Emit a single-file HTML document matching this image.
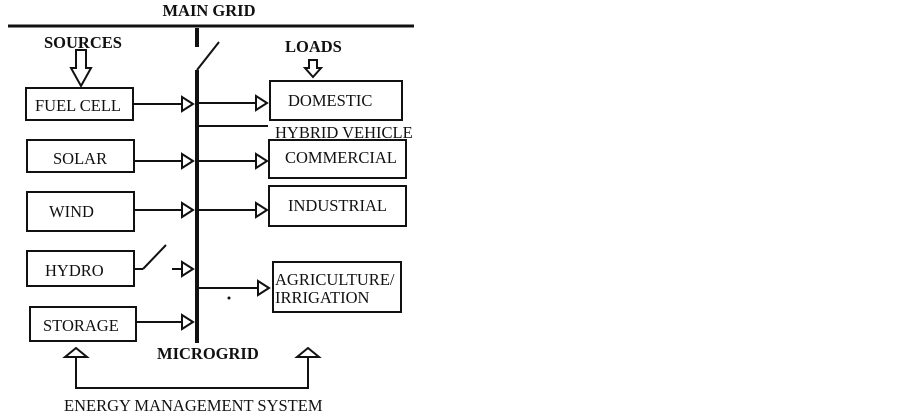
<!DOCTYPE html>
<html><head><style>
body{margin:0;background:#fff;width:902px;height:415px;overflow:hidden}
svg text{font-family:"Liberation Serif",serif;fill:#111}
</style></head><body>
<svg width="902" height="415" viewBox="0 0 902 415" xmlns="http://www.w3.org/2000/svg">
<g stroke="#111" fill="none" stroke-width="2">
<line x1="8" y1="26" x2="414" y2="26" stroke-width="3"/>
<line x1="197" y1="28" x2="197" y2="47" stroke-width="4"/>
<line x1="197" y1="70" x2="219" y2="42" stroke-width="2"/>
<line x1="197" y1="70" x2="197" y2="343" stroke-width="4"/>
<rect x="26" y="88" width="107" height="32"/>
<rect x="27" y="140" width="107" height="32"/>
<rect x="27" y="192" width="107" height="39"/>
<rect x="27" y="251" width="107" height="35"/>
<rect x="30" y="307" width="106" height="34"/>
<rect x="270" y="81" width="132" height="39"/>
<rect x="269" y="140" width="137" height="38"/>
<rect x="269" y="186" width="137" height="40"/>
<rect x="273" y="262" width="128" height="50"/>
<line x1="133" y1="104" x2="182" y2="104"/><path d="M182 97 L193 104 L182 111 Z"/>
<line x1="134" y1="161" x2="182" y2="161"/><path d="M182 154 L193 161 L182 168 Z"/>
<line x1="134" y1="210" x2="182" y2="210"/><path d="M182 203 L193 210 L182 217 Z"/>
<line x1="134" y1="269" x2="143" y2="269"/><line x1="143" y1="269" x2="166" y2="245"/>
<line x1="172" y1="269" x2="182" y2="269"/><path d="M182 262 L193 269 L182 276 Z"/>
<line x1="136" y1="322" x2="182" y2="322"/><path d="M182 315 L193 322 L182 329 Z"/>
<line x1="199" y1="103" x2="256" y2="103"/><path d="M256 96 L267 103 L256 110 Z"/>
<line x1="199" y1="126" x2="268" y2="126"/>
<line x1="199" y1="161" x2="256" y2="161"/><path d="M256 154 L267 161 L256 168 Z"/>
<line x1="199" y1="210" x2="256" y2="210"/><path d="M256 203 L267 210 L256 217 Z"/>
<line x1="199" y1="288" x2="258" y2="288"/><path d="M258 281 L269 288 L258 295 Z"/>
<path d="M76 50 L86 50 L86 68 L91 68 L81 86 L71 68 L76 68 Z"/>
<path d="M309 60 L317 60 L317 68 L321 68 L313 77 L305 68 L309 68 Z"/>
<path d="M65 357 L76 348 L87 357 Z"/>
<path d="M297 357 L308 348 L319 357 Z"/>
<path d="M76 357 L76 388 L308 388 L308 357"/>
</g>
<circle cx="229" cy="298" r="1.5" fill="#111"/>
<g font-weight="bold" font-size="16.5">
<text x="209" y="16" text-anchor="middle">MAIN GRID</text>
<text x="44" y="48">SOURCES</text>
<text x="285" y="52">LOADS</text>
<text x="157" y="359">MICROGRID</text>
</g>
<g font-size="16.5">
<text x="35" y="111">FUEL CELL</text>
<text x="53" y="164">SOLAR</text>
<text x="49" y="217">WIND</text>
<text x="45" y="276">HYDRO</text>
<text x="43" y="331">STORAGE</text>
<text x="288" y="106">DOMESTIC</text>
<text x="275" y="138">HYBRID VEHICLE</text>
<text x="285" y="163">COMMERCIAL</text>
<text x="288" y="211">INDUSTRIAL</text>
<text x="275" y="285">AGRICULTURE/</text>
<text x="275" y="303">IRRIGATION</text>
<text x="64" y="411">ENERGY MANAGEMENT SYSTEM</text>
</g>
</svg>
</body></html>
